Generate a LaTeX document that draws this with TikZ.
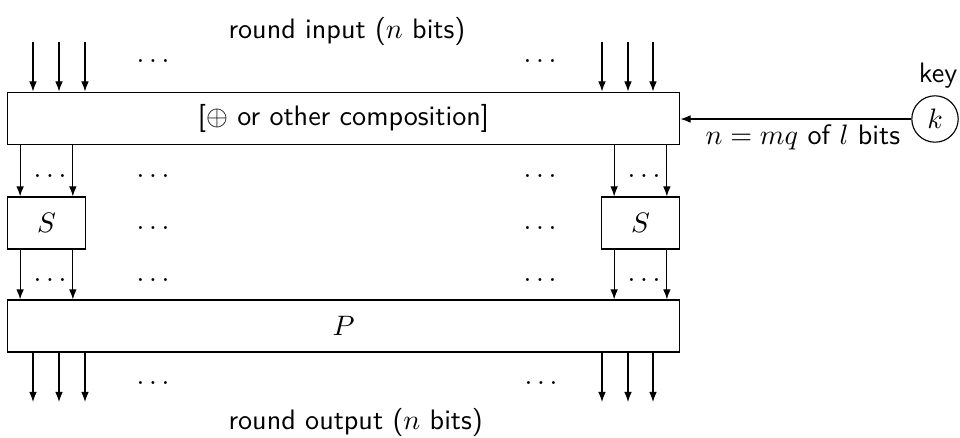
\documentclass[tikz,border=0pt]{standalone}
\usepackage{amsmath}
\usepackage{tikz}
\usetikzlibrary{arrows.meta,positioning}
\renewcommand{\familydefault}{\sfdefault}

\begin{document}
\begin{tikzpicture}[
        x=0.125mm, y=-0.125mm,
        wide/.style={draw, minimum width=84.1mm, minimum height=6.6mm, inner sep=0pt},
        sbox/.style={draw, minimum width=9.85mm, minimum height=6.5mm, inner sep=0pt},
        keyc/.style={draw, circle, minimum size=5.8mm, inner sep=0pt},
        lbl/.style={anchor=base west, inner sep=0pt},
        arr/.style={-{Latex[length=3.6pt,width=2.7pt]}},
        dotsn/.style={inner sep=0pt}
      ]
        \useasboundingbox (0,0) rectangle (960,437);
        \node[wide] (mix) at (343.5,118.5) {[$\oplus$ or other composition]};
        \node[sbox, below right=6.375mm and 0mm of mix.south west] (sl) {$S$};
        \node[sbox, below left=6.375mm and 0mm of mix.south east] (sr) {$S$};
        \node[wide, minimum height=6.5mm, below=19.25mm of mix] (perm) {$P$};
        \node[keyc] (key) at (935,119) {$k$};
        \node[anchor=base] (keylbl) at (938,82) {key};
        \node[lbl] (inlbl) at (228,38) {round input ($n$ bits)};
        \node[lbl] (outlbl) at (228,429) {round output ($n$ bits)};
        \node[lbl] (keybits) at (705,144) {$n=mq$ of $l$ bits};
        % dots
        \foreach \px/\py [count=\i] in {153/61, 540/61, 50/176, 153/176, 540/176,
            644/176, 153/228, 540/228, 50/280, 153/280, 540/280, 644/280,
            153/383, 541/383}
          \node[dotsn] (dots\i) at (\px,\py) {$\ldots$};
        % input and output bits
        \foreach \px in {33,59,85,602,628,653} {
          \coordinate (in\px) at (\px,42);
          \coordinate (out\px) at (\px,402);
          \draw[arr] (in\px) -- (in\px |- mix.north);
          \draw[arr] (out\px |- perm.south) -- (out\px);
        }
        % S-box wires
        \foreach \s in {sl,sr} {
          \coordinate (\s1) at ([xshift=1.7mm]\s.north west);
          \coordinate (\s2) at ([xshift=-1.7mm]\s.north east);
          \draw[arr] (\s1 |- mix.south) -- (\s1);
          \draw[arr] (\s2 |- mix.south) -- (\s2);
          \draw[arr] (\s1 |- \s.south) -- (\s1 |- perm.north);
          \draw[arr] (\s2 |- \s.south) -- (\s2 |- perm.north);
        }
        \draw[arr] (key) -- (mix.east |- key);
      \end{tikzpicture}
\end{document}
